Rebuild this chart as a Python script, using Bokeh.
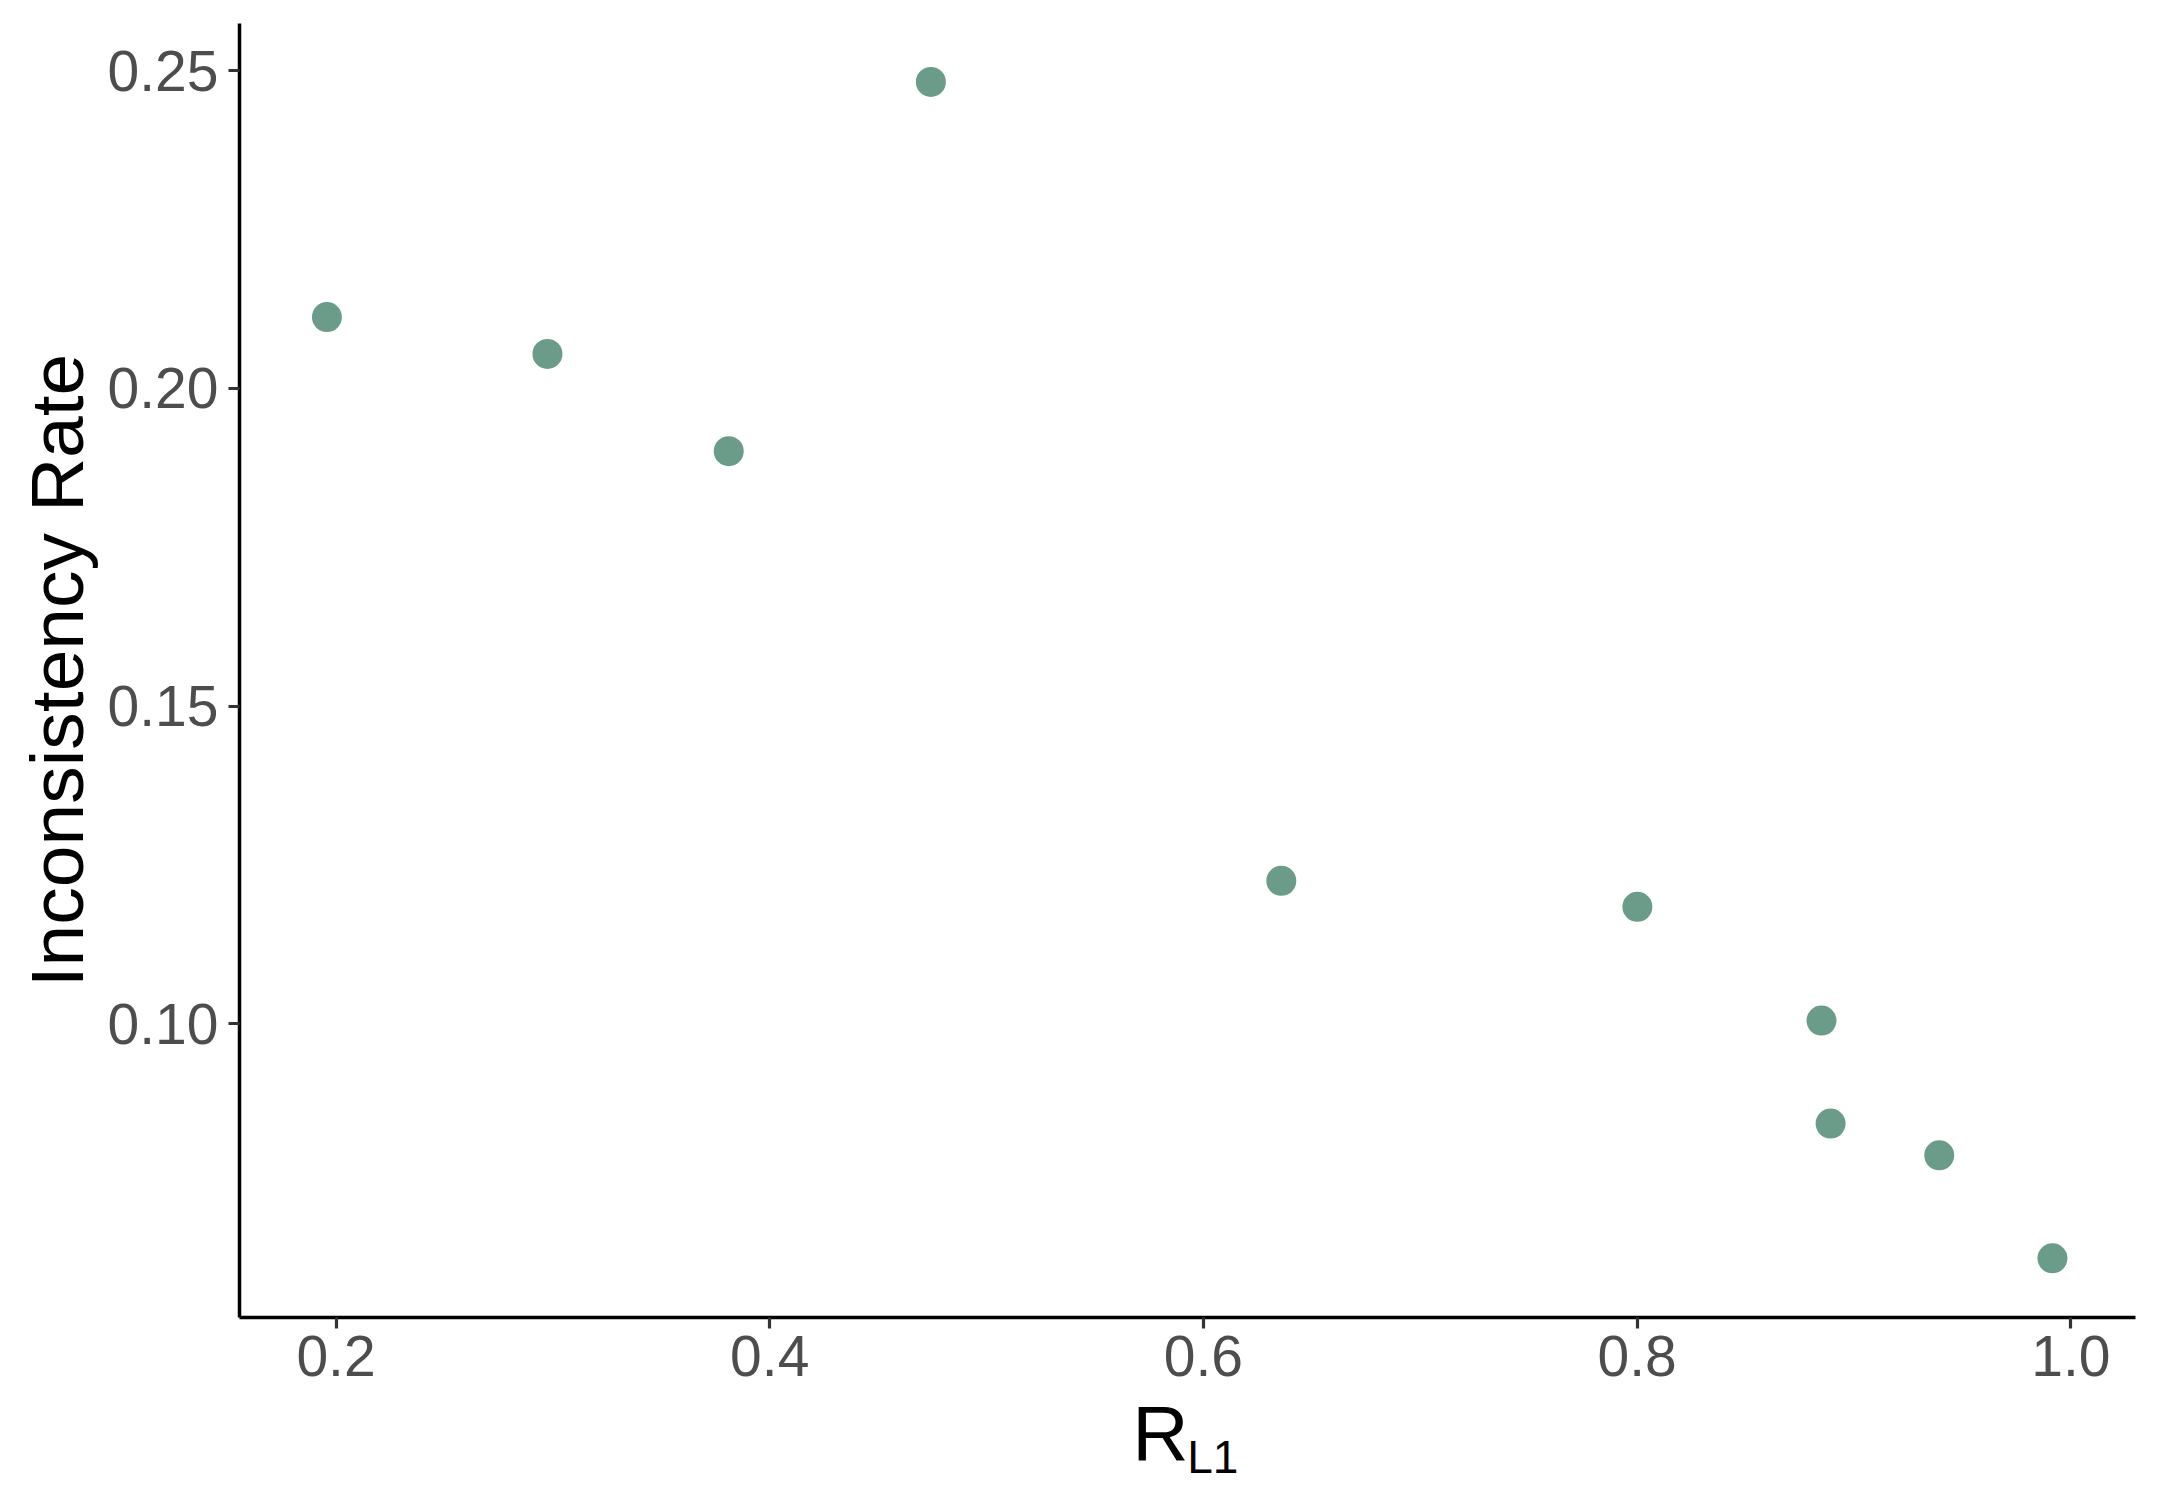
from bokeh.plotting import figure
from bokeh.models import ColumnDataSource, FixedTicker, Range1d
from bokeh.layouts import column
from bokeh.core.properties import value
from bokeh.embed import file_html
from bokeh.resources import INLINE

# ---- data ----
r_l1 = [0.1958, 0.2975, 0.3811, 0.4743, 0.6359, 0.8001, 0.8850, 0.8892, 0.9393, 0.9915]
inconsistency_rate = [0.2112, 0.2054, 0.1901, 0.2482, 0.1225, 0.1184, 0.1005, 0.0843, 0.0793, 0.0631]

x_ticks = [0.2, 0.4, 0.6, 0.8, 1.0]
x_tick_labels = ["0.2", "0.4", "0.6", "0.8", "1.0"]
y_ticks = [0.10, 0.15, 0.20, 0.25]
y_tick_labels = ["0.10", "0.15", "0.20", "0.25"]

y_title = "Inconsistency Rate"
x_title_main = "R"
x_title_sub = "L1"

FONT = "Liberation Sans"
POINT_COLOR = "#6B9C8A"

# ---- main figure ----
W = 2160
ML, MR, MT = 239, 25, 23
FRAME_BOTTOM = 1317
MB = 71
H1 = FRAME_BOTTOM + MB

p = figure(width=W, height=H1, output_backend="svg", toolbar_location=None, title=None,
           x_range=Range1d(0.15549, 1.02980), y_range=Range1d(0.05378, 0.25740),
           min_border_left=ML, min_border_right=MR, min_border_top=MT, min_border_bottom=MB)
p.outline_line_color = None
p.background_fill_color = "white"
p.border_fill_color = "white"
p.xgrid.visible = False
p.ygrid.visible = False

src = ColumnDataSource(dict(x=r_l1, y=inconsistency_rate))
p.scatter("x", "y", source=src, size=30, fill_color=POINT_COLOR, line_color=None)

for ax, ticks, labels in ((p.xaxis[0], x_ticks, x_tick_labels), (p.yaxis[0], y_ticks, y_tick_labels)):
    ax.ticker = FixedTicker(ticks=ticks)
    ax.major_label_overrides = {t: l for t, l in zip(ticks, labels)}
    ax.minor_tick_line_color = None
    ax.axis_line_color = "black"
    ax.axis_line_width = 3.5
    ax.major_tick_line_color = "#333333"
    ax.major_tick_line_width = 3.2
    ax.major_tick_in = 0
    ax.major_tick_out = 11
    ax.major_label_text_font = FONT
    ax.major_label_text_font_size = "57px"
    ax.major_label_text_color = "#4D4D4D"

p.xaxis[0].axis_label = None
p.xaxis[0].major_label_standoff = 7
p.yaxis[0].major_label_standoff = 10

p.yaxis[0].axis_label = y_title
p.yaxis[0].axis_label_text_font = FONT
p.yaxis[0].axis_label_text_font_size = "75px"
p.yaxis[0].axis_label_text_font_style = "normal"
p.yaxis[0].axis_label_text_color = "black"
p.yaxis[0].axis_label_standoff = 6

# ---- x-axis title strip (R with subscript L1), sharing the main x scale ----
H2 = 116
pt = figure(width=W, height=H2, output_backend="svg", toolbar_location=None, title=None,
            x_range=p.x_range, y_range=Range1d(0, H2),
            x_axis_type=None, y_axis_type=None,
            min_border_left=ML, min_border_right=MR, min_border_top=0, min_border_bottom=0)
pt.outline_line_color = None
pt.xgrid.visible = False
pt.ygrid.visible = False
pt.text(x=[0.5672], y=[72], text=[x_title_main], text_font=value(FONT),
        text_font_size="78px", text_color="black", text_align="left", text_baseline="middle")
pt.text(x=[0.5925], y=[48], text=[x_title_sub], text_font=value(FONT),
        text_font_size="46px", text_color="black", text_align="left", text_baseline="middle")

layout = column(p, pt, spacing=0)
open("out.html", "w").write(file_html(layout, INLINE))
